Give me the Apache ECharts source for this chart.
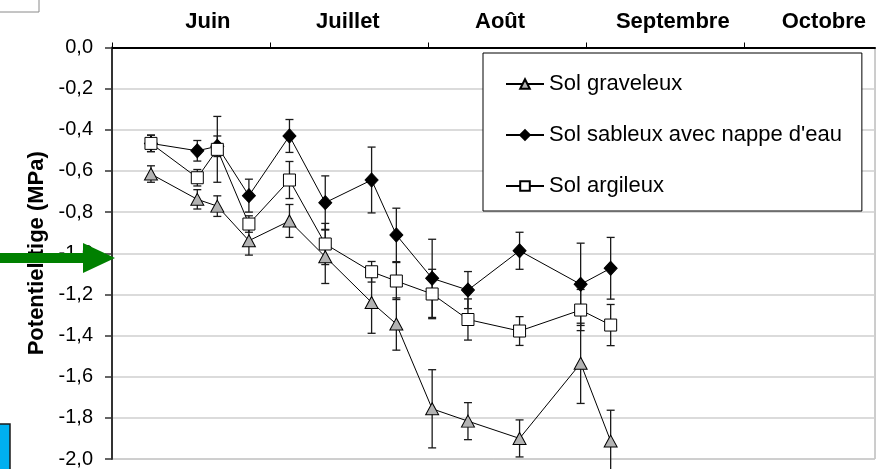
<!DOCTYPE html>
<html>
<head>
<meta charset="utf-8">
<script src="https://cdn.jsdelivr.net/npm/echarts@6/dist/echarts.min.js"></script>
<style>html,body{margin:0;padding:0;background:#fff;}#chart{width:880px;height:469px;}</style>
</head>
<body>
<div id="chart"></div>
<script>
// Sampling dates, in days from the start of June (axis unit: days)
const xDays = [7.4, 16.2, 20.0, 26.0, 33.7, 40.5, 49.3, 54.0, 60.8, 67.6, 77.4, 89.0, 94.7];

const seriesNames = ['Sol graveleux', "Sol sableux avec nappe d'eau", 'Sol argileux'];

const graveleux    = [-0.615, -0.738, -0.771, -0.939, -0.843, -1.017, -1.239, -1.344, -1.756, -1.816, -1.900, -1.535, -1.913];
const graveleuxErr = [0.040, 0.047, 0.050, 0.070, 0.080, 0.130, 0.150, 0.127, 0.190, 0.090, 0.090, 0.195, 0.150];

const sableux    = [-0.466, -0.502, -0.480, -0.720, -0.430, -0.754, -0.644, -0.911, -1.122, -1.179, -0.988, -1.151, -1.073];
const sableuxErr = [0.040, 0.050, 0.050, 0.080, 0.080, 0.130, 0.160, 0.130, 0.190, 0.090, 0.090, 0.200, 0.150];

const argileux    = [-0.466, -0.633, -0.495, -0.858, -0.644, -0.955, -1.090, -1.135, -1.198, -1.322, -1.378, -1.276, -1.349];
const argileuxErr = [0.040, 0.040, 0.160, 0.040, 0.090, 0.100, 0.050, 0.090, 0.120, 0.100, 0.070, 0.100, 0.100];

const monthLabels   = ['Juin', 'Juillet', 'Août', 'Septembre', 'Octobre'];
const monthLabelPos = [18.2, 44.8, 73.7, 106.5, 135.2];
const monthTicks    = [0, 30, 60, 90, 120];

const FONT = '"Liberation Sans", Arial, sans-serif';

function pts(vals) { return xDays.map((x, i) => [x, vals[i]]); }
function errs(vals, e) { return xDays.map((x, i) => [x, vals[i] - e[i], vals[i] + e[i]]); }

function errorSeries(vals, e) {
  return {
    type: 'custom',
    silent: true,
    clip: false,
    z: 2,
    encode: { x: 0, y: [1, 2] },
    data: errs(vals, e),
    renderItem: function (params, api) {
      const x = api.value(0), lo = api.value(1), hi = api.value(2);
      const a = api.coord([x, hi]), b = api.coord([x, lo]);
      const w = 4;
      const st = { stroke: '#1a1a1a', lineWidth: 1.3 };
      return {
        type: 'group',
        children: [
          { type: 'line', shape: { x1: a[0], y1: a[1], x2: b[0], y2: b[1] }, style: st },
          { type: 'line', shape: { x1: a[0] - w, y1: a[1], x2: a[0] + w, y2: a[1] }, style: st },
          { type: 'line', shape: { x1: b[0] - w, y1: b[1], x2: b[0] + w, y2: b[1] }, style: st }
        ]
      };
    }
  };
}

const chart = echarts.init(document.getElementById('chart'), null, { renderer: 'canvas' });
chart.setOption({
  animation: false,
  backgroundColor: '#fff',
  textStyle: { fontFamily: FONT },
  grid: { left: 112, top: 47.5, right: 5, bottom: 10, show: true, borderColor: '#9a9a9a', borderWidth: 1 },
  legend: {
    data: seriesNames,
    orient: 'vertical',
    left: 483, top: 53,
    itemWidth: 38, itemHeight: 12, itemGap: 29,
    padding: [20, 20, 14, 22],
    backgroundColor: '#fff', borderColor: '#000', borderWidth: 1,
    textStyle: { fontSize: 22, color: '#000', fontFamily: FONT }
  },
  xAxis: {
    type: 'value', position: 'top', min: 0, max: 144.9,
    axisLine: { show: true, onZero: false, lineStyle: { color: '#000', width: 2 } },
    axisTick: { show: true, customValues: monthTicks, length: 5, lineStyle: { color: '#000', width: 1 } },
    axisLabel: {
      customValues: monthLabelPos,
      formatter: function (v) {
        let best = 0;
        monthLabelPos.forEach((p, i) => { if (Math.abs(p - v) < Math.abs(monthLabelPos[best] - v)) best = i; });
        return monthLabels[best];
      },
      fontWeight: 'bold', fontSize: 22, color: '#000', margin: 15, fontFamily: FONT
    },
    splitLine: { show: false }
  },
  yAxis: {
    type: 'value', min: -2, max: 0, interval: 0.2,
    axisLine: { show: true, onZero: false, lineStyle: { color: '#333', width: 2 } },
    axisTick: { show: true, length: 7, lineStyle: { color: '#333', width: 1.5 } },
    axisLabel: {
      formatter: function (v) { const s = (Math.abs(v) < 1e-9 ? 0 : v).toFixed(1); return s.replace('.', ','); },
      fontSize: 20, color: '#000', margin: 19, fontFamily: FONT
    },
    splitLine: { show: true, lineStyle: { color: '#cfcfcf', width: 1.5 } },
    name: 'Potentiel tige (MPa)', nameLocation: 'middle', nameRotate: 90, nameGap: 63,
    nameTextStyle: { fontWeight: 'bold', fontSize: 22, color: '#000', fontFamily: FONT }
  },
  series: [
    errorSeries(graveleux, graveleuxErr),
    errorSeries(sableux, sableuxErr),
    errorSeries(argileux, argileuxErr),
    {
      type: 'line', name: seriesNames[0], data: pts(graveleux), z: 3,
      symbol: 'triangle', symbolSize: [13, 12], showAllSymbol: true,
      itemStyle: { color: '#b3b3b3', borderColor: '#000', borderWidth: 1 },
      lineStyle: { color: '#000', width: 1 }, emphasis: { disabled: true }
    },
    {
      type: 'line', name: seriesNames[1], data: pts(sableux), z: 4,
      symbol: 'diamond', symbolSize: [13, 14], showAllSymbol: true,
      itemStyle: { color: '#000', borderColor: '#000', borderWidth: 1 },
      lineStyle: { color: '#000', width: 1 }, emphasis: { disabled: true }
    },
    {
      type: 'line', name: seriesNames[2], data: pts(argileux), z: 5,
      symbol: 'rect', symbolSize: 12, showAllSymbol: true,
      itemStyle: { color: '#fff', borderColor: '#000', borderWidth: 1 },
      lineStyle: { color: '#000', width: 1 }, emphasis: { disabled: true }
    }
  ],
  graphic: [
    { type: 'rect', z: 100, shape: { x: -2, y: -2, width: 41, height: 14 }, style: { fill: '#fff', stroke: '#8a8a8a', lineWidth: 1 } },
    { type: 'rect', z: 100, shape: { x: -2, y: 424, width: 12, height: 50 }, style: { fill: '#00b0f0', stroke: '#1a1a1a', lineWidth: 1.5 } },
    { type: 'polygon', z: 100, shape: { points: [[0, 253], [83, 253], [83, 243], [115, 258], [83, 273], [83, 263], [0, 263]] }, style: { fill: '#008000' } }
  ]
});
</script>
</body>
</html>
